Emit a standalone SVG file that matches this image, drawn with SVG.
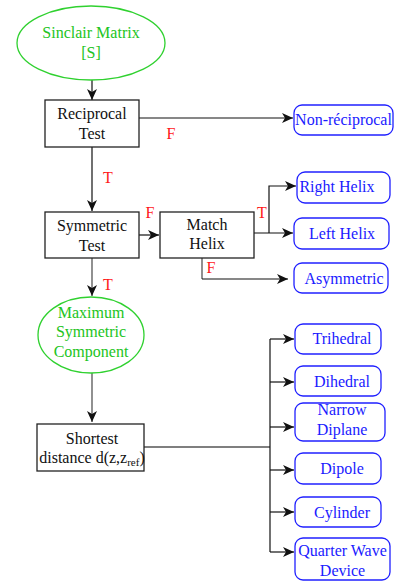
<svg xmlns="http://www.w3.org/2000/svg" width="395" height="581" viewBox="0 0 395 581" font-family="'Liberation Serif', 'Times New Roman', 'DejaVu Serif', serif">
<style>
text{font-family:"Liberation Serif","Times New Roman","DejaVu Serif",serif;font-size:16px;text-anchor:middle}
.box{fill:#fff;stroke:#222;stroke-width:1.3}
.ell{fill:#fff;stroke:#2fd12f;stroke-width:1.3}
.res{fill:#fff;stroke:#2020ff;stroke-width:1.3}
.g{fill:#22c422}
.b{fill:#1a1aff}
.k{fill:#111}
.lbl{fill:#ff1a1a;font-size:16px}
.c{fill:none;stroke:#111;stroke-width:1.2}
.cg{fill:none;stroke:#555;stroke-width:1.3}
</style>
<defs>
<marker id="ah" markerWidth="12" markerHeight="10" refX="11" refY="5" orient="auto" markerUnits="userSpaceOnUse">
<path d="M0,0 L11,5 L0,10 L3,5 z" fill="#111"/>
</marker>
</defs>
<g id="connectors">
<path class="c" d="M92,80 V100" marker-end="url(#ah)"/>
<path class="c" d="M139,118 H293" marker-end="url(#ah)"/>
<path class="c" d="M92,147 V211" marker-end="url(#ah)"/>
<path class="c" d="M139,235 H159" marker-end="url(#ah)"/>
<path class="c" d="M254,233 H293" marker-end="url(#ah)"/>
<path class="c" d="M269,233 V186 H296" marker-end="url(#ah)"/>
<path class="cg" d="M202,258 V279"/>
<path class="c" d="M202,279 H288" marker-end="url(#ah)"/>
<path class="cg" d="M92,258 V296" marker-end="url(#ah)"/>
<path class="cg" d="M92,373 V422" marker-end="url(#ah)"/>
<path class="cg" d="M144,447 H270"/>
<path class="c" d="M270,339 V552"/>
<path class="c" d="M270,339 H294" marker-end="url(#ah)"/>
<path class="c" d="M270,382 H294" marker-end="url(#ah)"/>
<path class="c" d="M270,427 H294" marker-end="url(#ah)"/>
<path class="c" d="M270,470 H294" marker-end="url(#ah)"/>
<path class="c" d="M270,512 H294" marker-end="url(#ah)"/>
<path class="c" d="M270,552 H294" marker-end="url(#ah)"/>
<text class="lbl" x="171" y="139">F</text>
<text class="lbl" x="108" y="183">T</text>
<text class="lbl" x="150" y="218">F</text>
<text class="lbl" x="262" y="218">T</text>
<text class="lbl" x="211" y="273">F</text>
<text class="lbl" x="108" y="290">T</text>
</g>
<g id="sinclair">
<ellipse class="ell" cx="91" cy="43" rx="74" ry="37"/>
<text class="g" x="91" y="38">Sinclair Matrix</text>
<text class="g" x="91" y="58">[S]</text>
</g>
<g id="reciprocal">
<rect class="box" x="45" y="100" width="94" height="47"/>
<text class="k" x="92" y="119">Reciprocal</text>
<text class="k" x="92" y="139">Test</text>
</g>
<g id="nonreciprocal">
<rect class="res" x="294" y="105" width="99" height="30" rx="8"/>
<text class="b" x="343.5" y="125">Non-réciprocal</text>
</g>
<g id="symmetric">
<rect class="box" x="45" y="212" width="94" height="46"/>
<text class="k" x="92" y="231">Symmetric</text>
<text class="k" x="92" y="251">Test</text>
</g>
<g id="matchhelix">
<rect class="box" x="160" y="212" width="94" height="46"/>
<text class="k" x="207" y="230">Match</text>
<text class="k" x="207" y="249">Helix</text>
</g>
<g id="righthelix">
<rect class="res" x="297" y="172" width="93" height="31" rx="8"/>
<text class="b" x="337" y="192">Right Helix</text>
</g>
<g id="lefthelix">
<rect class="res" x="294" y="218" width="95" height="31" rx="8"/>
<text class="b" x="342" y="239">Left Helix</text>
</g>
<g id="asymmetric">
<rect class="res" x="294" y="263" width="94" height="30" rx="8"/>
<text class="b" x="344" y="284">Asymmetric</text>
</g>
<g id="maxsym">
<ellipse class="ell" cx="91" cy="335" rx="53" ry="38"/>
<text class="g" x="91" y="318">Maximum</text>
<text class="g" x="91" y="337">Symmetric</text>
<text class="g" x="91" y="357">Component</text>
</g>
<g id="shortest">
<rect class="box" x="37" y="424" width="107" height="47"/>
<text class="k" x="92" y="444">Shortest</text>
<text class="k" x="92" y="463">distance d(z,z<tspan font-size="11" dy="3">ref</tspan><tspan dy="-3">)</tspan></text>
</g>
<g id="trihedral">
<rect class="res" x="295" y="324" width="86" height="30" rx="8"/>
<text class="b" x="342" y="344">Trihedral</text>
</g>
<g id="dihedral">
<rect class="res" x="295" y="366" width="86" height="30" rx="8"/>
<text class="b" x="342" y="387">Dihedral</text>
</g>
<g id="narrowdiplane">
<rect class="res" x="295" y="403" width="90" height="38" rx="8"/>
<text class="b" x="342" y="415">Narrow</text>
<text class="b" x="342" y="435">Diplane</text>
</g>
<g id="dipole">
<rect class="res" x="295" y="453" width="86" height="31" rx="8"/>
<text class="b" x="342" y="474">Dipole</text>
</g>
<g id="cylinder">
<rect class="res" x="295" y="497" width="86" height="30" rx="8"/>
<text class="b" x="342" y="518">Cylinder</text>
</g>
<g id="quarterwave">
<rect class="res" x="295" y="538" width="95" height="42" rx="8"/>
<text class="b" x="342.5" y="556">Quarter Wave</text>
<text class="b" x="342.5" y="576">Device</text>
</g>
</svg>
